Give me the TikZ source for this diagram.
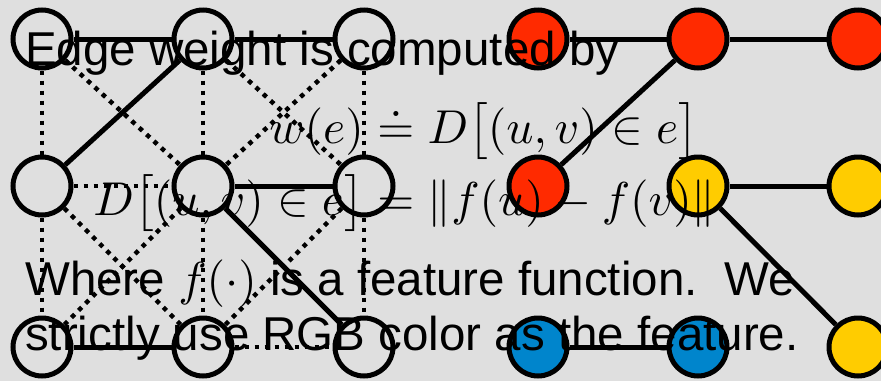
\documentclass[tikz,border=0pt]{standalone}
\usepackage[no-math]{fontspec}
\newfontfamily\arialfont{Liberation Sans}
\DeclareFontShape{OML}{cmm}{m}{it}{<->cmmi10}{}
\DeclareFontShape{OT1}{cmr}{m}{n}{<->cmr10}{}
\DeclareFontShape{OMS}{cmsy}{m}{n}{<->cmsy10}{}
\DeclareFontShape{OMX}{cmex}{m}{n}{<->cmex10}{}
\makeatletter
\newcommand\bigbrk[1]{{\hbox{$\left#1\vrule height 0.85em depth 0.35em width 0pt\right.\n@space$}}}
\makeatother
\definecolor{bg}{HTML}{DFDFDF}
\definecolor{nred}{HTML}{FF2A00}
\definecolor{nyellow}{HTML}{FFCC00}
\definecolor{nblue}{HTML}{0085CC}
\begin{document}
\begin{tikzpicture}[x=1pt,y=-1pt,
  gnode/.style={circle,draw=black,line width=5pt,minimum size=58pt,inner sep=0pt,fill=bg},
  solidedge/.style={line width=5pt},
  dotedge/.style={line width=4.5pt,dash pattern=on 4.5pt off 5.5pt},
  txt/.style={font=\arialfont\fontsize{47.5}{57}\selectfont,inner sep=0pt,anchor=base west},
  mth/.style={font=\fontsize{47.5}{57}\selectfont,inner sep=0pt}]
\fill[bg] (0,0) rectangle (881,381);
\useasboundingbox (0,0) rectangle (881,381);
\clip (0,0) rectangle (881,381);
% left graph
\node[gnode] (a11) at (42,39) {};
\node[gnode] (a12) at (203,39) {};
\node[gnode] (a13) at (364,39) {};
\node[gnode] (a21) at (42,186) {};
\node[gnode] (a22) at (203,186) {};
\node[gnode] (a23) at (364,186) {};
\node[gnode] (a31) at (42,347) {};
\node[gnode] (a32) at (203,347) {};
\node[gnode] (a33) at (364,347) {};
\draw[solidedge] (a11) -- (a12);
\draw[solidedge] (a12) -- (a13);
\draw[solidedge] (a12) -- (a21);
\draw[solidedge] (a22) -- (a23);
\draw[solidedge] (a22) -- (a33);
\draw[solidedge] (a31) -- (a32);
\draw[dotedge] (a11) -- (a21);
\draw[dotedge] (a12) -- (a22);
\draw[dotedge] (a13) -- (a23);
\draw[dotedge] (a21) -- (a31);
\draw[dotedge] (a22) -- (a32);
\draw[dotedge] (a23) -- (a33);
\draw[dotedge] (a21) -- (a22);
\draw[dotedge] (a32) -- (a33);
\draw[dotedge] (a11) -- (a22);
\draw[dotedge] (a12) -- (a23);
\draw[dotedge] (a13) -- (a22);
\draw[dotedge] (a21) -- (a32);
\draw[dotedge] (a22) -- (a31);
\draw[dotedge] (a23) -- (a32);
% right graph
\node[gnode,fill=nred] (r11) at (538,39) {};
\node[gnode,fill=nred] (r12) at (698,39) {};
\node[gnode,fill=nred] (r13) at (858,39) {};
\node[gnode,fill=nred] (r21) at (538,186) {};
\node[gnode,fill=nyellow] (r22) at (698,186) {};
\node[gnode,fill=nyellow] (r23) at (858,186) {};
\node[gnode,fill=nblue] (r31) at (538,347) {};
\node[gnode,fill=nblue] (r32) at (698,347) {};
\node[gnode,fill=nyellow] (r33) at (858,347) {};
\draw[solidedge] (r11) -- (r12);
\draw[solidedge] (r12) -- (r13);
\draw[solidedge] (r12) -- (r21);
\draw[solidedge] (r22) -- (r23);
\draw[solidedge] (r22) -- (r33);
\draw[solidedge] (r31) -- (r32);
% text
\node[txt] (t1) at (25,65) {Edge weight is computed by};
\node[mth,anchor=base east] (m1l) at (364,143) {$w(e)$};
\node[mth,anchor=base west] (m1r) at (364,143) {${}\doteq D\mathopen{\bigbrk[}(u,v)\in e\mathclose{\bigbrk]}$};
\node[mth,anchor=base east] (m2l) at (364,215) {$D\mathopen{\bigbrk[}(u,v)\in e\mathclose{\bigbrk]}$};
\node[mth,anchor=base west] (m2r) at (364,215) {${}= \left\|f(u)-f(v)\right\|$};
\node[txt] (t2) at (25,295) {Where $f(\cdot)$ is a feature function.\ \ We};
\node[txt] (t3) at (25,350) {strictly use RGB color as the feature.};
\end{tikzpicture}
\end{document}
